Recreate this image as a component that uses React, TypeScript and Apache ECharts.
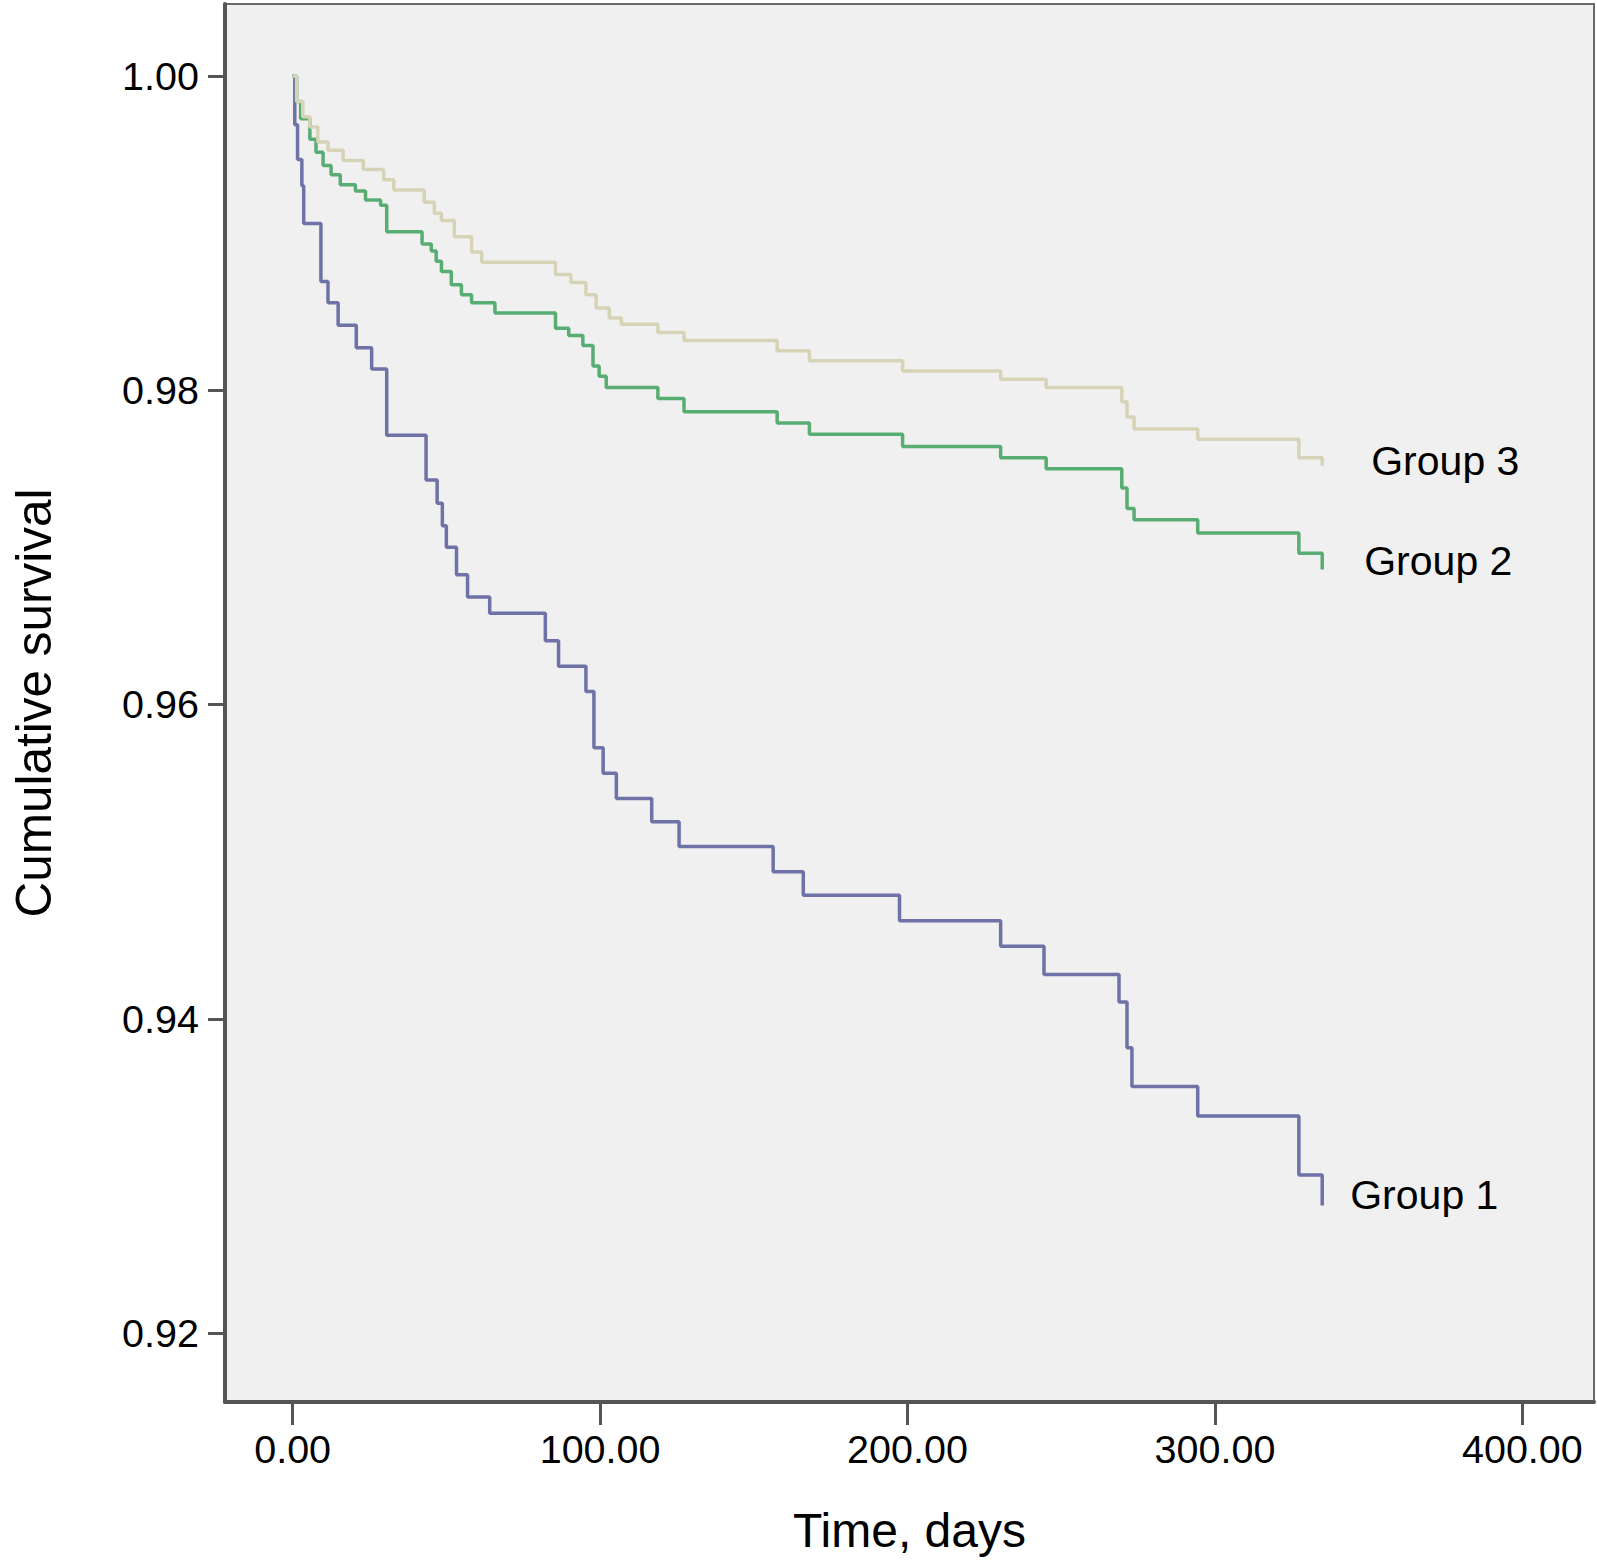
import React, { useEffect, useRef } from 'react';
import * as echarts from 'echarts';

// Kaplan-Meier steps (day of event, survival after it)
const group1Days = [0, 0.7, 1.6, 3.0, 3.6, 9.2, 11.5, 14.8, 20.7, 25.7, 30.6, 43.4, 47.0, 48.7, 50.0, 53.3, 56.9, 64.1, 82.2, 86.5, 95.4, 98.0, 101.0, 105.3, 116.8, 125.7, 156.3, 166.1, 197.4, 230.3, 244.4, 268.8, 271.4, 273.0, 294.4, 327.3, 334.9];
const group1Survival = [1, 0.99689, 0.99469, 0.99301, 0.99061, 0.98692, 0.98556, 0.98413, 0.98271, 0.98135, 0.97714, 0.97429, 0.9728, 0.97137, 0.97001, 0.96826, 0.96684, 0.9658, 0.96405, 0.96244, 0.96082, 0.95725, 0.95563, 0.95402, 0.95253, 0.95097, 0.94935, 0.94786, 0.94624, 0.94462, 0.94281, 0.94106, 0.93815, 0.93569, 0.93381, 0.93005, 0.92811];

const group2Days = [0, 1.3, 2.6, 5.6, 7.6, 9.9, 12.5, 15.5, 20.4, 23.7, 28.6, 30.6, 42.1, 45.1, 46.7, 48.4, 51.6, 54.9, 58.2, 65.8, 85.5, 89.8, 94.4, 97.7, 99.7, 102.0, 118.8, 127.3, 157.6, 168.1, 198.4, 230.3, 245.1, 269.7, 271.4, 273.7, 294.4, 327.3, 334.9];
const group2Survival = [1, 0.99838, 0.99728, 0.99598, 0.99514, 0.9943, 0.99372, 0.99307, 0.99268, 0.9921, 0.99177, 0.99009, 0.98931, 0.98886, 0.98821, 0.98756, 0.98672, 0.98608, 0.98556, 0.98491, 0.98394, 0.98348, 0.98284, 0.98154, 0.98089, 0.98018, 0.97947, 0.97863, 0.97791, 0.9772, 0.97642, 0.97571, 0.975, 0.97377, 0.97247, 0.97176, 0.97092, 0.96962, 0.96859];

const group3Days = [0, 1.3, 3.3, 5.6, 8.2, 11.5, 16.4, 23.0, 29.6, 32.9, 42.8, 46.1, 48.4, 52.6, 58.2, 61.5, 85.5, 90.5, 95.4, 98.7, 103.0, 106.9, 118.8, 127.3, 157.6, 168.1, 198.4, 230.3, 245.1, 269.7, 271.4, 273.7, 294.4, 327.3, 334.9];
const group3Survival = [1, 0.99838, 0.99741, 0.99676, 0.99579, 0.99527, 0.99462, 0.99404, 0.99339, 0.99275, 0.99197, 0.99126, 0.9908, 0.98977, 0.9888, 0.98815, 0.98737, 0.98685, 0.98608, 0.98523, 0.98459, 0.9842, 0.98368, 0.98316, 0.98251, 0.98187, 0.98122, 0.9807, 0.98018, 0.97927, 0.9783, 0.97753, 0.97688, 0.97571, 0.97519];

const groupNames = ['Group 1', 'Group 2', 'Group 3'];
const xTicks = [0, 100, 200, 300, 400];
const yTicks = [0.92, 0.94, 0.96, 0.98, 1.0];

const FONT = '"Liberation Sans", Arial, Helvetica, sans-serif';

const pairs = (days: number[], surv: number[]) => days.map((d, i) => [d, surv[i]]);

const App: React.FC = () => {
  const chartRef = useRef<HTMLDivElement>(null);

  useEffect(() => {
    document.body.style.margin = '0';
    if (!chartRef.current) return;
    const chart = echarts.init(chartRef.current, null, { renderer: 'svg' });

    const lineSeries = (
      name: string,
      data: number[][],
      color: string,
      labelDistance: number,
      labelOffsetY: number,
    ) => ({
      name,
      type: 'line' as const,
      step: 'end' as const,
      data,
      showSymbol: false,
      symbol: 'none',
      lineStyle: { color, width: 3.5 },
      itemStyle: { color },
      endLabel: {
        show: true,
        formatter: name,
        color: '#000',
        fontSize: 41,
        fontFamily: FONT,
        distance: labelDistance,
        offset: [0, labelOffsetY],
      },
    });

    const option: echarts.EChartsOption = {
      animation: false,
      backgroundColor: '#fff',
      grid: {
        left: 216,
        right: 3,
        top: 4,
        bottom: 160,
        show: true,
        backgroundColor: '#f0f0f0',
        borderColor: '#6a6a6a',
        borderWidth: 2,
      },
      xAxis: {
        type: 'value',
        min: -22,
        max: 423.3,
        name: 'Time, days',
        nameLocation: 'middle',
        nameGap: 104,
        nameTextStyle: { color: '#000', fontSize: 48, fontFamily: FONT },
        axisLine: { show: true, onZero: false, lineStyle: { color: '#555', width: 4 } },
        axisTick: {
          show: true,
          length: 23,
          customValues: xTicks,
          lineStyle: { color: '#555', width: 3 },
        },
        axisLabel: {
          color: '#000',
          fontSize: 39.5,
          fontFamily: FONT,
          margin: 27,
          customValues: xTicks,
          formatter: (v: number) => v.toFixed(2),
        },
        splitLine: { show: false },
      },
      yAxis: {
        type: 'value',
        min: 0.91561,
        max: 1.00458,
        name: 'Cumulative survival',
        nameLocation: 'middle',
        nameGap: 167,
        nameTextStyle: { color: '#000', fontSize: 49.5, fontFamily: FONT },
        axisLine: { show: true, onZero: false, lineStyle: { color: '#555', width: 4 } },
        axisTick: {
          show: true,
          length: 17,
          customValues: yTicks,
          lineStyle: { color: '#555', width: 3 },
        },
        axisLabel: {
          color: '#000',
          fontSize: 39.5,
          fontFamily: FONT,
          margin: 26,
          customValues: yTicks,
          formatter: (v: number) => v.toFixed(2),
        },
        splitLine: { show: false },
      },
      series: [
        lineSeries(groupNames[0], pairs(group1Days, group1Survival), '#6e72a6', 28, -11),
        lineSeries(groupNames[1], pairs(group2Days, group2Survival), '#58ad72', 42, -9),
        lineSeries(groupNames[2], pairs(group3Days, group3Survival), '#d6d3b6', 49, -5),
      ],
    };

    chart.setOption(option);

    return () => {
      chart.dispose();
    };
  }, []);

  return <div ref={chartRef} style={{ width: '1597px', height: '1562px' }} />;
};

export default App;
